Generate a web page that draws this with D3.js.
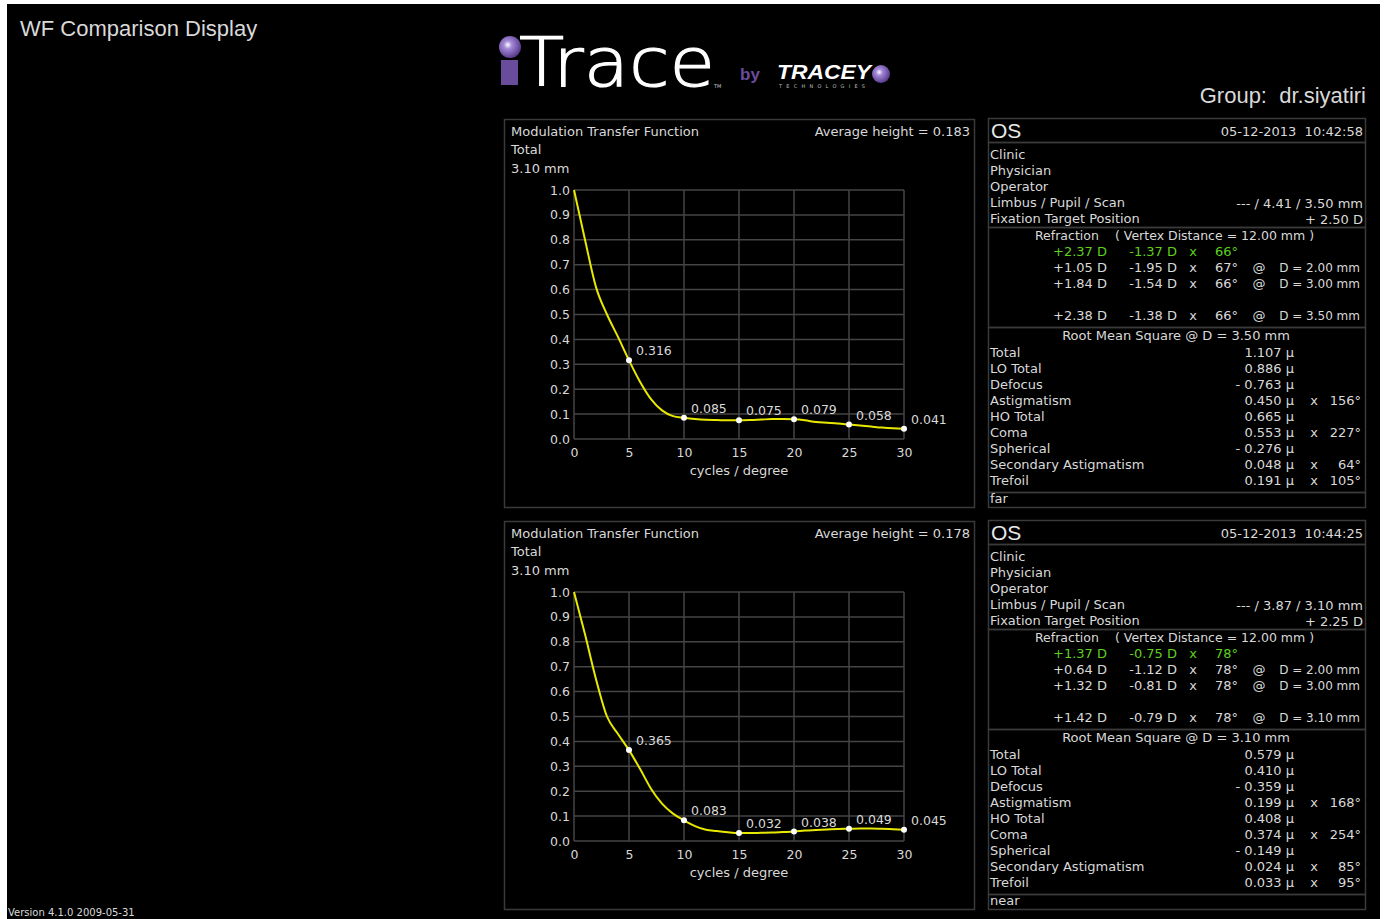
<!DOCTYPE html>
<html>
<head>
<meta charset="utf-8">
<script src="https://cdn.jsdelivr.net/npm/d3@7"></script>
<style>
html,body{margin:0;padding:0;background:#fff;}
svg{display:block;}
</style>
</head>
<body>
<svg id="c" width="1384" height="919"></svg>
<script>
// ---------- DATA ----------
const cycles = [0,1,2,3,4,5,6,7,8,9,10,11,12,13,14,15,16,17,18,19,20,21,22,23,24,25,26,27,28,29,30];
const mtfFar  = [1.0,0.80,0.61,0.50,0.41,0.316,0.23,0.16,0.115,0.092,0.085,0.080,0.077,0.076,0.075,0.075,0.076,0.078,0.080,0.080,0.079,0.075,0.068,0.065,0.062,0.058,0.054,0.050,0.046,0.043,0.041];
const mtfNear = [1.0,0.83,0.65,0.50,0.43,0.365,0.29,0.21,0.15,0.11,0.083,0.060,0.045,0.040,0.035,0.032,0.032,0.033,0.034,0.036,0.038,0.042,0.044,0.046,0.048,0.049,0.050,0.050,0.049,0.047,0.045];
const markedCycles = [5,10,15,20,25,30];
const xTicks = [0,5,10,15,20,25,30];
const yTicks = [0,0.1,0.2,0.3,0.4,0.5,0.6,0.7,0.8,0.9,1.0];
const avgHeights = ["0.183","0.178"];
const scanSizes = ["3.10 mm","3.10 mm"];

const eyes = ["OS","OS"];
const dates = ["05-12-2013  10:42:58","05-12-2013  10:44:25"];
const infoLabels = ["Clinic","Physician","Operator","Limbus / Pupil / Scan","Fixation Target Position"];
const limbusVals = ["--- / 4.41 / 3.50 mm","--- / 3.87 / 3.10 mm"];
const fixationVals = ["+ 2.50 D","+ 2.25 D"];
const refractionFar = [
  ["+2.37 D","-1.37 D","x","66°","",""],
  ["+1.05 D","-1.95 D","x","67°","@","D = 2.00 mm"],
  ["+1.84 D","-1.54 D","x","66°","@","D = 3.00 mm"],
  ["+2.38 D","-1.38 D","x","66°","@","D = 3.50 mm"]
];
const refractionNear = [
  ["+1.37 D","-0.75 D","x","78°","",""],
  ["+0.64 D","-1.12 D","x","78°","@","D = 2.00 mm"],
  ["+1.32 D","-0.81 D","x","78°","@","D = 3.00 mm"],
  ["+1.42 D","-0.79 D","x","78°","@","D = 3.10 mm"]
];
const rmsHeaders = ["Root Mean Square @ D = 3.50 mm","Root Mean Square @ D = 3.10 mm"];
const rmsLabels = ["Total","LO Total","Defocus","Astigmatism","HO Total","Coma","Spherical","Secondary Astigmatism","Trefoil"];
const rmsFar  = [["1.107 µ",""],["0.886 µ",""],["- 0.763 µ",""],["0.450 µ","156°"],["0.665 µ",""],["0.553 µ","227°"],["- 0.276 µ",""],["0.048 µ","64°"],["0.191 µ","105°"]];
const rmsNear = [["0.579 µ",""],["0.410 µ",""],["- 0.359 µ",""],["0.199 µ","168°"],["0.408 µ",""],["0.374 µ","254°"],["- 0.149 µ",""],["0.024 µ","85°"],["0.033 µ","95°"]];
const notes = ["far","near"];

// ---------- DRAW ----------
const svg = d3.select("#c");
const TXT = "#d9d9d9", FONT = "DejaVu Sans, sans-serif", BORDER = "#3a3a3a", FS = 13;
svg.append("rect").attr("x",7).attr("y",4).attr("width",1373).attr("height",915).attr("fill","#000");

svg.append("text").attr("x",20).attr("y",36).attr("fill",TXT)
  .attr("font-family","Liberation Sans, Arial, sans-serif").attr("font-size",22).text("WF Comparison Display");
svg.append("text").attr("x",1366).attr("y",103).attr("fill",TXT).attr("text-anchor","end")
  .attr("font-family","Liberation Sans, Arial, sans-serif").attr("font-size",22)
  .attr("xml:space","preserve").text("Group:  dr.siyatiri");
svg.append("text").attr("x",8).attr("y",916).attr("fill",TXT)
  .attr("font-family",FONT).attr("font-size",10).text("Version 4.1.0 2009-05-31");

// logo
const defs = svg.append("defs");
const rg = defs.append("radialGradient").attr("id","sph").attr("cx","40%").attr("cy","40%").attr("r","60%");
rg.append("stop").attr("offset","0%").attr("stop-color","#ffffff");
rg.append("stop").attr("offset","30%").attr("stop-color","#a58ad8");
rg.append("stop").attr("offset","100%").attr("stop-color","#5a3c8e");
svg.append("circle").attr("cx",510).attr("cy",47).attr("r",11).attr("fill","url(#sph)");
svg.append("rect").attr("x",501).attr("y",60).attr("width",17).attr("height",25).attr("fill","#6a4c9c");
svg.append("text").attr("x",519).attr("y",86).attr("fill","#fff")
  .attr("font-family","DejaVu Sans, sans-serif").attr("font-weight",200).attr("font-size",68)
  .attr("stroke","#fff").attr("stroke-width",1.2)
  .attr("textLength",196).attr("lengthAdjust","spacingAndGlyphs").text("Trace");
svg.append("text").attr("x",714).attr("y",88).attr("fill","#ccc").attr("font-family",FONT).attr("font-size",5).text("TM");
svg.append("text").attr("x",740).attr("y",80).attr("fill","#6a4c9c")
  .attr("font-family","Liberation Sans, Arial, sans-serif").attr("font-size",17).attr("font-weight","bold").text("by");
svg.append("text").attr("x",777).attr("y",79).attr("fill","#fff")
  .attr("font-family","Liberation Sans, Arial, sans-serif").attr("font-size",20).attr("font-weight","bold").attr("font-style","italic")
  .attr("textLength",94).attr("lengthAdjust","spacingAndGlyphs").text("TRACEY");
svg.append("text").attr("x",779).attr("y",88).attr("fill","#bbb")
  .attr("font-family",FONT).attr("font-size",5).attr("textLength",86).attr("lengthAdjust","spacing").text("TECHNOLOGIES");
svg.append("circle").attr("cx",881).attr("cy",74).attr("r",9).attr("fill","url(#sph)");

const x = d3.scaleLinear().domain([0,30]).range([574,904]);

[0,1].forEach(k => {
  const off = k*402;
  const data = cycles.map((c,i)=>({c, v:(k===0?mtfFar:mtfNear)[i]}));
  const y = d3.scaleLinear().domain([0,1]).range([439+off,190+off]);
  const g = svg.append("g");

  // chart panel border
  g.append("rect").attr("x",504.5).attr("y",119.5+off).attr("width",470).attr("height",388)
    .attr("fill","none").attr("stroke",BORDER).attr("stroke-width",1.5);
  const t = (xx,yy,s,anchor,size,col) => g.append("text").attr("x",xx).attr("y",yy).attr("fill",col||TXT)
    .attr("font-family",FONT).attr("font-size",size||FS).attr("text-anchor",anchor||"start").attr("xml:space","preserve").text(s);
  t(511,136+off,"Modulation Transfer Function");
  t(511,154+off,"Total");
  t(511,173+off,scanSizes[k]);
  t(970,136+off,"Average height = "+avgHeights[k],"end");

  // grid
  g.selectAll(".hg").data(yTicks).join("line")
    .attr("x1",x(0)).attr("x2",x(30)).attr("y1",d=>y(d)).attr("y2",d=>y(d))
    .attr("stroke","#454545").attr("stroke-width",1.5);
  g.selectAll(".vg").data(xTicks).join("line")
    .attr("y1",y(0)).attr("y2",y(1)).attr("x1",d=>x(d)).attr("x2",d=>x(d))
    .attr("stroke","#454545").attr("stroke-width",1.5);

  // axes
  const ax = g.append("g").attr("transform",`translate(0,${y(0)})`)
    .call(d3.axisBottom(x).tickValues(xTicks).tickSize(0).tickPadding(9).tickFormat(d3.format("d")));
  const ay = g.append("g").attr("transform",`translate(${x(0)},0)`)
    .call(d3.axisLeft(y).tickValues(yTicks).tickSize(0).tickPadding(4).tickFormat(d3.format(".1f")));
  [ax,ay].forEach(a=>{
    a.select(".domain").remove();
    a.selectAll("text").attr("fill",TXT).attr("font-family",FONT).attr("font-size",12.5);
  });
  t(739,475+off,"cycles / degree","middle");

  // curve
  g.append("path").datum(data)
    .attr("d",d3.line().x(d=>x(d.c)).y(d=>y(d.v)).curve(d3.curveMonotoneX))
    .attr("fill","none").attr("stroke","#e8e800").attr("stroke-width",2);
  const marks = data.filter(d=>markedCycles.includes(d.c));
  g.selectAll(".dot").data(marks).join("circle")
    .attr("cx",d=>x(d.c)).attr("cy",d=>y(d.v)).attr("r",3).attr("fill","#fff");
  g.selectAll(".lab").data(marks).join("text")
    .attr("x",d=>x(d.c)+7).attr("y",d=>y(d.v)-5).attr("fill",TXT)
    .attr("font-family",FONT).attr("font-size",12.5).text(d=>d3.format(".3f")(d.v));

  // info panel
  const L = 988, R = 1365;
  const box = (y0,y1)=> g.append("rect").attr("x",L+0.5).attr("y",y0+0.5+off).attr("width",R-L).attr("height",y1-y0)
    .attr("fill","none").attr("stroke",BORDER).attr("stroke-width",1.5);
  box(118,142); box(142,227); box(227,327); box(327,492); box(492,507);
  g.append("text").attr("x",991).attr("y",138+off).attr("fill","#e8e8e8").attr("font-family","Liberation Sans, Arial, sans-serif")
    .attr("font-size",21).text(eyes[k]);
  t(1363,136+off,dates[k],"end",13);
  infoLabels.forEach((s,i)=>t(990,159+16*i+off,s));
  t(1363,207.5+off,limbusVals[k],"end");
  t(1363,223.5+off,fixationVals[k],"end");
  t(1035,240+off,"Refraction",null,12.5);
  t(1115,240+off,"( Vertex Distance = 12.00 mm )",null,12.5);
  const refr = k===0?refractionFar:refractionNear;
  const ry = [255.5,271.5,287.5,320];
  refr.forEach((r,i)=>{
    const col = i===0 ? "#5fd01f" : TXT;
    const yy = ry[i]+off;
    t(1107,yy,r[0],"end",FS,col);
    t(1177,yy,r[1],"end",FS,col);
    t(1193,yy,r[2],"middle",FS,col);
    t(1238,yy,r[3],"end",FS,col);
    if(r[4]) t(1259,yy,r[4],"middle",FS,col);
    if(r[5]) t(1360,yy,r[5],"end",12,col);
  });
  t(1176,340+off,rmsHeaders[k],"middle");
  const rms = k===0?rmsFar:rmsNear;
  rmsLabels.forEach((s,i)=>{
    const yy = 356.5+16*i+off;
    t(990,yy,s);
    t(1294,yy,rms[i][0],"end");
    if(rms[i][1]){ t(1314,yy,"x","middle"); t(1361,yy,rms[i][1],"end"); }
  });
  t(990,503+off,notes[k]);
});
</script>
</body>
</html>
